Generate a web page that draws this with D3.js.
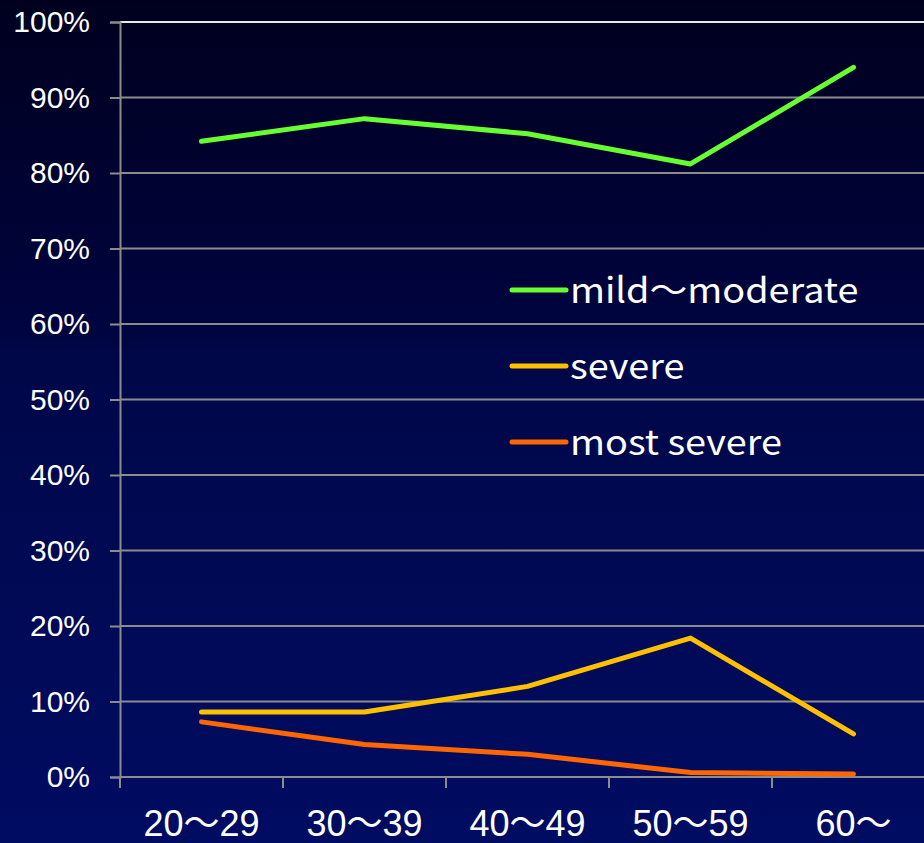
<!DOCTYPE html>
<html>
<head>
<meta charset="utf-8">
<script src="https://cdn.jsdelivr.net/npm/d3@7"></script>
<style>
  html, body { margin: 0; padding: 0; background: #000033; }
  svg { display: block; }
</style>
</head>
<body>
<svg id="chart" width="924" height="843"></svg>
<script>
// Age groups and share of cases by severity (%)
const ageGroups = ["20〜29", "30〜39", "40〜49", "50〜59", "60〜"];
const mildModerate = [84.2, 87.2, 85.2, 81.2, 94.0];
const severe = [8.6, 8.6, 12.0, 18.4, 5.7];
const mostSevere = [7.3, 4.3, 3.0, 0.6, 0.4];
const yTicks = [0, 10, 20, 30, 40, 50, 60, 70, 80, 90, 100];
const seriesNames = ["mild〜moderate", "severe", "most severe"];
const seriesColors = ["#66ff33", "#ffc000", "#ff6600"];

const series = [mildModerate, severe, mostSevere].map((values, i) => ({
  name: seriesNames[i], color: seriesColors[i], values
}));

const W = 924, H = 843;
const svg = d3.select("#chart");

// Background: dark navy fading to a brighter blue toward the bottom
const defs = svg.append("defs");
const grad = defs.append("linearGradient").attr("id", "bg").attr("x1", 0).attr("y1", 0).attr("x2", 0).attr("y2", 1);
grad.append("stop").attr("offset", "0%").attr("stop-color", "#00001e");
grad.append("stop").attr("offset", "40%").attr("stop-color", "#000440");
grad.append("stop").attr("offset", "42%").attr("stop-color", "#000748");
grad.append("stop").attr("offset", "100%").attr("stop-color", "#000c62");
svg.append("rect").attr("width", W).attr("height", H).attr("fill", "url(#bg)");

const x = d3.scaleBand().domain(ageGroups).range([120, 935]);
const y = d3.scaleLinear().domain([0, 100]).range([777, 22]);

// Horizontal gridlines
svg.append("g").selectAll("line").data(yTicks).join("line")
  .attr("x1", 120).attr("x2", 935)
  .attr("y1", d => y(d)).attr("y2", d => y(d))
  .attr("stroke", d => d === 100 ? "#e8e8e8" : "#8c8c8c")
  .attr("stroke-width", 2);

// Y axis
const yAxis = d3.axisLeft(y).tickValues(yTicks).tickFormat(d => d + "%").tickSize(10).tickPadding(20);
const gy = svg.append("g").attr("transform", "translate(120,0)").call(yAxis);
gy.select(".domain").attr("stroke", "#8c8c8c").attr("stroke-width", 2);
gy.selectAll(".tick line").attr("stroke", "#8c8c8c").attr("stroke-width", 2);
gy.selectAll(".tick text").attr("fill", "#ffffff")
  .style("font-family", "'Liberation Sans', Arial, sans-serif").style("font-size", "30px");

// X axis: tick marks on band boundaries, labels centered in bands
const gx = svg.append("g").attr("transform", "translate(0,777)");
gx.append("line").attr("x1", 120).attr("x2", 935).attr("y1", 0).attr("y2", 0)
  .attr("stroke", "#8c8c8c").attr("stroke-width", 2);
const bounds = ageGroups.map(d => x(d)).concat([x.range()[1]]);
gx.selectAll("line.tk").data(bounds).join("line").attr("class", "tk")
  .attr("x1", d => d).attr("x2", d => d).attr("y1", 0).attr("y2", 11)
  .attr("stroke", "#8c8c8c").attr("stroke-width", 2);
gx.selectAll("text").data(ageGroups).join("text")
  .attr("x", d => x(d) + x.bandwidth() / 2).attr("y", 59)
  .attr("text-anchor", "middle").attr("fill", "#ffffff")
  .style("font-family", "'Liberation Sans', Arial, 'Noto Sans CJK JP', sans-serif")
  .style("font-size", "36px")
  .text(d => d);

// Series lines
const line = d3.line()
  .x((d, i) => x(ageGroups[i]) + x.bandwidth() / 2)
  .y(d => y(d));
svg.append("g").selectAll("path").data(series).join("path")
  .attr("d", d => line(d.values))
  .attr("fill", "none")
  .attr("stroke", d => d.color)
  .attr("stroke-width", 5)
  .attr("stroke-linecap", "round")
  .attr("stroke-linejoin", "round");

// Legend
const lg = svg.append("g").selectAll("g").data(series).join("g")
  .attr("transform", (d, i) => `translate(512,${290 + i * 76})`);
lg.append("line").attr("x1", 0).attr("x2", 54).attr("y1", 0).attr("y2", 0)
  .attr("stroke", d => d.color).attr("stroke-width", 5).attr("stroke-linecap", "round");
lg.append("text")
  .attr("transform", "translate(58,13) scale(1.08,1)")
  .attr("fill", "#ffffff")
  .style("font-family", "'Noto Sans CJK JP', sans-serif")
  .style("font-size", "35px")
  .text(d => d.name);
</script>
</body>
</html>
